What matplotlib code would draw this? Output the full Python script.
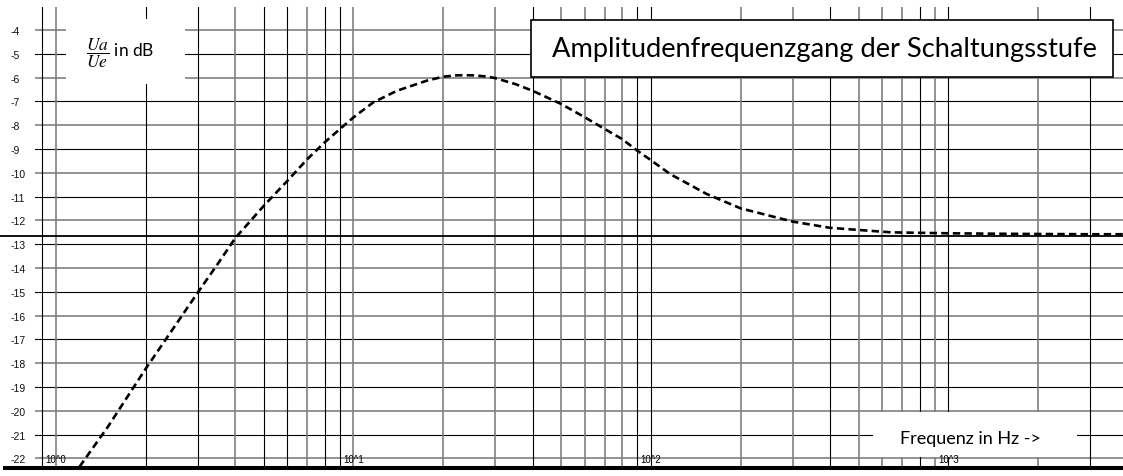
import numpy as np
import matplotlib.pyplot as plt
from matplotlib.patches import Rectangle
from matplotlib.lines import Line2D

plt.rcParams['mathtext.fontset'] = 'stix'

# curve (Hz, dB)
freq = [1.2, 1.5, 2, 2.5, 3, 3.5, 4, 5, 6, 7, 8, 9, 10, 11.65, 14, 17.6, 20, 22.3,
        25, 28, 30, 35, 40, 50, 60, 70, 80, 90, 100, 116, 154, 200, 250, 300, 400,
        500, 640, 800, 1000, 1500, 2000, 3000, 3900]
gain_db = [-22.35, -20.64, -18.24, -16.47, -15.02, -13.82, -12.75, -11.38, -10.33,
           -9.42, -8.72, -8.16, -7.67, -7.04, -6.55, -6.13, -5.96, -5.9, -5.9, -5.95,
           -6.02, -6.27, -6.55, -7.11, -7.67, -8.16, -8.58, -9.07, -9.47, -10.05,
           -10.89, -11.49, -11.8, -12.05, -12.31, -12.40, -12.5, -12.52, -12.54,
           -12.56, -12.57, -12.58, -12.58]
asymptote_db = -12.66

db_ticks = list(range(-4, -23, -1))
grid_freq = [0.9, 1, 2, 3, 4, 5, 6, 7, 8, 9, 10, 20, 30, 40, 50, 60, 70, 80, 90,
             100, 200, 300, 400, 500, 600, 700, 800, 900, 1000, 2000, 3000]
dark_freq = [0.9, 2, 3, 5, 6, 8, 9, 40, 90, 100, 400, 800, 1000, 3000]
decades = [1, 10, 100, 1000]
decade_labels = ['10^0', '10^1', '10^2', '10^3']

title = 'Amplitudenfrequenzgang der Schaltungsstufe'
ylabel = r'$\dfrac{Ua}{Ue}$ in dB'
xlabel = 'Frequenz in Hz ->'

W, H = 1123, 477


def fx(px):
    return px / W


def fy(py):
    return 1 - py / H


fig = plt.figure(figsize=(W / 100, H / 100), dpi=100)
ax = fig.add_axes([fx(35), fy(467), 1 - fx(35), (467 - 8) / H])
ax.set_xscale('log')
ax.set_xlim(0.85, 3862)
ax.set_ylim(-22.32, -3.03)
for s in ax.spines.values():
    s.set_visible(False)

# grid
for v in db_ticks:
    if v % 2 == 0:
        ax.axhline(v, color='#808080', lw=1.2, zorder=1)
    else:
        ax.axhline(v, color='black', lw=0.8, zorder=1)
for f in grid_freq:
    if f in dark_freq:
        ax.axvline(f, color='black', lw=0.8, zorder=1)
    else:
        ax.axvline(f, color='#808080', lw=1.2, zorder=1)

ax.set_xticks([])
ax.set_xticks([], minor=True)
ax.set_yticks(db_ticks)
ax.set_yticklabels([str(v) for v in db_ticks], fontsize=7.5, family='Liberation Sans',
                   ha='left', color='#111111')
ax.tick_params(axis='y', length=0, pad=17.3)

# reference line at the high-frequency gain
ax.axhline(asymptote_db, xmin=-35 / 1088, xmax=1, color='black', lw=1.3,
           clip_on=False, zorder=2)

# curve
ax.plot(freq, gain_db, color='black', lw=1.9, linestyle=(0, (2.8, 1.6)), zorder=4)

# bottom bar
fig.add_artist(Line2D([fx(5), 1], [fy(468.5), fy(468.5)], color='black', lw=2.9))

# text boxes
fig.add_artist(Rectangle((fx(66), fy(85)), fx(185 - 66), (85 - 20) / H,
                         facecolor='white', edgecolor='none', zorder=5))
fig.text(fx(86), fy(53), ylabel, fontsize=12.5, family='Lato', ha='left',
         va='center', zorder=6)

fig.add_artist(Rectangle((fx(531), fy(78)), fx(1113 - 531), (78 - 20.7) / H,
                         facecolor='white', edgecolor='black', lw=1.2, zorder=5))
fig.text(fx(824.5), fy(49), title, fontsize=19.6, family='Lato', ha='center',
         va='center', zorder=6)

fig.add_artist(Rectangle((fx(873), fy(458)), fx(1077 - 873), (458 - 413) / H,
                         facecolor='white', edgecolor='none', zorder=5))
fig.text(fx(970), fy(439), xlabel, fontsize=13, family='Lato', ha='center',
         va='center', zorder=6)

# decade labels, drawn above the boxes
for d, lab in zip(decades, decade_labels):
    fig.text(d, 0.008, lab, transform=ax.get_xaxis_transform(), ha='center',
             va='baseline', fontsize=7, family='Liberation Sans', zorder=7)

fig.savefig('out.png', dpi=100)
